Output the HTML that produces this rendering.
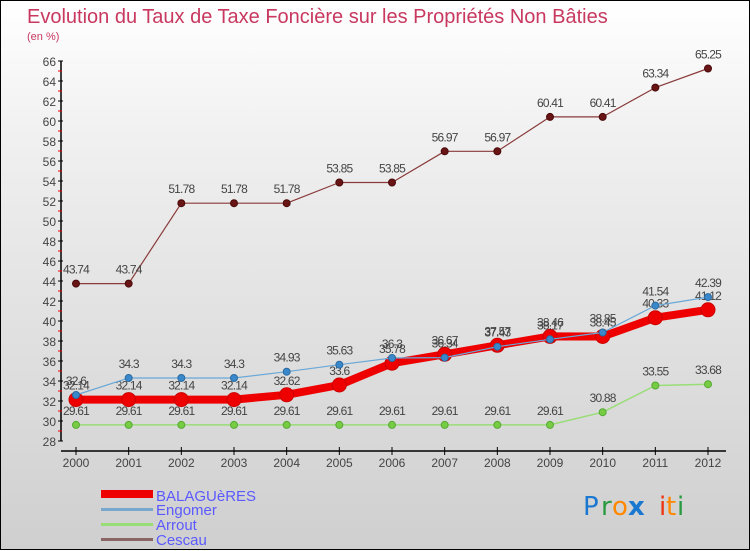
<!DOCTYPE html>
<html><head><meta charset="utf-8"><style>
html,body{margin:0;padding:0}
body{width:750px;height:550px;overflow:hidden;font-family:"Liberation Sans",sans-serif}
#wrap{position:relative;width:748px;height:548px;border:1px solid #000;background:linear-gradient(#ffffff,#f0f0f0 25%,#cfcfcf)}
svg{position:absolute;left:0;top:0}
</style></head><body>
<div id="wrap">
<svg id="chart" width="750" height="550">
<text x="26" y="22" font-size="20" fill="#c8385f">Evolution du Taux de Taxe Foncière sur les Propriétés Non Bâties</text>
<text x="26" y="39" font-size="11" fill="#c8385f">(en %)</text>
<g id="axes"></g>
<g id="series"></g>
<g id="legend">
<rect x="100" y="489" width="52" height="8" fill="#e00"/>
<text x="155" y="500" font-size="15" fill="#5a5aff">BALAGUèRES</text>
<rect x="100" y="507" width="52" height="3" fill="#7aa8cc"/>
<text x="155" y="514" font-size="15" fill="#5a5aff">Engomer</text>
<rect x="100" y="522" width="52" height="3" fill="#99dd77"/>
<text x="155" y="529" font-size="15" fill="#5a5aff">Arrout</text>
<rect x="100" y="537" width="52" height="3" fill="#8a6565"/>
<text x="155" y="544" font-size="15" fill="#5a5aff">Cescau</text>
</g>
<g font-size="26" font-family="'DejaVu Sans',sans-serif">
<text x="582" y="514" fill="#1a78d0">P</text><text x="600" y="514" fill="#2a9a40">r</text><text x="611" y="514" fill="#ff8800">o</text><text x="627" y="514" fill="#1a78d0" font-weight="bold">x</text><text x="658" y="514" fill="#ee3311">i</text><text x="665" y="514" fill="#ff8800">t</text><text x="676" y="514" fill="#2a9a40">i</text>
</g>
</svg>
</div>
<script>
const years=[2000,2001,2002,2003,2004,2005,2006,2007,2008,2009,2010,2011,2012];
const yTicks=[28,30,32,34,36,38,40,42,44,46,48,50,52,54,56,58,60,62,64,66];
const balagueres=[32.14,32.14,32.14,32.14,32.62,33.6,35.78,36.67,37.57,38.46,38.45,40.33,41.12];
const engomer=[32.6,34.3,34.3,34.3,34.93,35.63,36.3,36.34,37.43,38.17,38.85,41.54,42.39];
const arrout=[29.61,29.61,29.61,29.61,29.61,29.61,29.61,29.61,29.61,29.61,30.88,33.55,33.68];
const cescau=[43.74,43.74,51.78,51.78,51.78,53.85,53.85,56.97,56.97,60.41,60.41,63.34,65.25];

const NS="http://www.w3.org/2000/svg";
function xS(i){return 75+i*(707-75)/(years.length-1);}
function yS(v){return 440-(v-28)*10;}
function mk(tag,attrs,parent){const e=document.createElementNS(NS,tag);for(const k in attrs)e.setAttribute(k,attrs[k]);parent.appendChild(e);return e;}
const axes=document.getElementById('axes');
const ya=mk('line',{x1:60,y1:60,x2:60,y2:440,stroke:'#000','stroke-width':1.5},axes);


yTicks.forEach(v=>{
  const y=yS(v);
  mk('line',{x1:57,y1:y,x2:62,y2:y,stroke:'#000'},axes);
  if(v<66) mk('line',{x1:57,y1:y-10,x2:61,y2:y-10,stroke:'#e00'},axes);
  const t=mk('text',{x:55,y:y+5,'font-size':12,fill:'#444','text-anchor':'end'},axes);
  t.textContent=v;
  
  
});
const xa=mk('line',{x1:60,y1:450,x2:725,y2:450,stroke:'#000','stroke-width':1.5},axes);


years.forEach((yr,i)=>{
  const x=xS(i);
  mk('line',{x1:x,y1:446,x2:x,y2:454,stroke:'#000'},axes);
  const t=mk('text',{x:x,y:466,'font-size':12,fill:'#444','text-anchor':'middle'},axes);
  t.textContent=yr;
  
  
});
const ser=document.getElementById('series');
function draw(name,data,color,width,r,pfill,pstroke){
  const g=mk('g',{},ser);
  
  
  const pts=data.map((v,i)=>xS(i)+','+yS(v)).join(' ');
  mk('polyline',{points:pts,fill:'none',stroke:color,'stroke-width':width,'stroke-linejoin':'round'},g);
  data.forEach((v,i)=>{
    const c=mk('circle',{cx:xS(i),cy:yS(v),r:r,fill:pfill,stroke:pstroke,'stroke-width':1},g);
    
    
    const t=mk('text',{x:xS(i),y:yS(v)-10,'font-size':12,fill:'#444','text-anchor':'middle','letter-spacing':'-0.8'},g);
    t.textContent=String(v);
    
    
  });
}
draw('cescau',cescau,'#8a3a3a',1.2,3.5,'#6a1515','#4a0a0a');
draw('arrout',arrout,'#99dd77',1.5,3.5,'#77cc44','#55aa33');
draw('balagueres',balagueres,'#ee0000',8,7,'#ee0000','#cc0000');
draw('engomer',engomer,'#6aa8d8',1.2,3.5,'#3a88cc','#2a6aa0');
</script>
</body></html>
